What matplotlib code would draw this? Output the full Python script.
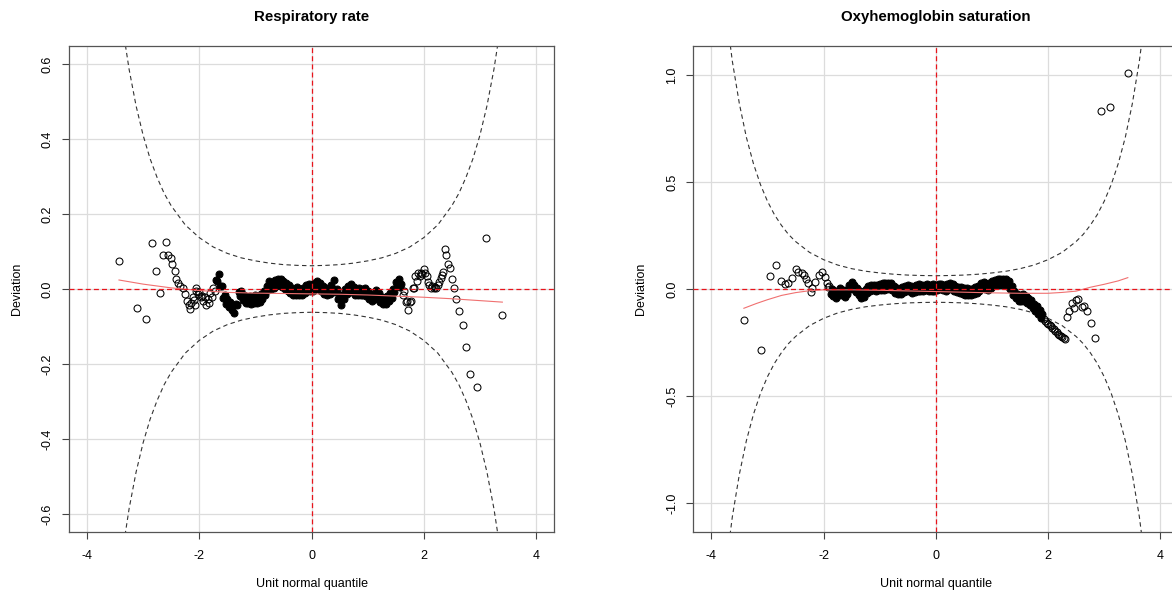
import matplotlib
matplotlib.use("Agg")
import matplotlib.pyplot as plt

plt.rcParams['font.family'] = ['Liberation Sans', 'DejaVu Sans']
plt.rcParams['axes.unicode_minus'] = False

# unit normal quantiles of the dense middle of both worms
z_core = [-1.900, -1.875, -1.850, -1.825, -1.800, -1.775, -1.750, -1.725, -1.700, -1.675,
          -1.650, -1.625, -1.600, -1.575, -1.550, -1.525, -1.500, -1.475, -1.450, -1.425,
          -1.400, -1.375, -1.350, -1.325, -1.300, -1.275, -1.250, -1.225, -1.200, -1.175,
          -1.150, -1.125, -1.100, -1.075, -1.050, -1.025, -1.000, -0.975, -0.950, -0.925,
          -0.900, -0.875, -0.850, -0.825, -0.800, -0.775, -0.750, -0.725, -0.700, -0.675,
          -0.650, -0.625, -0.600, -0.575, -0.550, -0.525, -0.500, -0.475, -0.450, -0.425,
          -0.400, -0.375, -0.350, -0.325, -0.300, -0.275, -0.250, -0.225, -0.200, -0.175,
          -0.150, -0.125, -0.100, -0.075, -0.050, -0.025, 0.000, 0.025, 0.050, 0.075,
          0.100, 0.125, 0.150, 0.175, 0.200, 0.225, 0.250, 0.275, 0.300, 0.325,
          0.350, 0.375, 0.400, 0.425, 0.450, 0.475, 0.500, 0.525, 0.550, 0.575,
          0.600, 0.625, 0.650, 0.675, 0.700, 0.725, 0.750, 0.775, 0.800, 0.825,
          0.850, 0.875, 0.900, 0.925, 0.950, 0.975, 1.000, 1.025, 1.050, 1.075,
          1.100, 1.125, 1.150, 1.175, 1.200, 1.225, 1.250, 1.275, 1.300, 1.325,
          1.350, 1.375, 1.400, 1.425, 1.450, 1.475, 1.500, 1.525, 1.550, 1.575,
          1.600, 1.625, 1.650, 1.675, 1.700, 1.725, 1.750, 1.775, 1.800, 1.825,
          1.850, 1.875, 1.900]

# Respiratory rate: deviations
rr_core = [-0.021, -0.044, -0.027, -0.037, -0.011, -0.021, 0.004, -0.004, 0.024, 0.021,
           0.041, 0.009, 0.009, -0.024, -0.016, -0.039, -0.026, -0.049, -0.036, -0.057,
           -0.043, -0.064, -0.039, -0.044, -0.009, -0.019, -0.006, -0.029, -0.016, -0.037,
           -0.021, -0.038, -0.019, -0.040, -0.024, -0.038, -0.016, -0.037, -0.021, -0.035,
           -0.013, -0.027, -0.006, -0.017, 0.009, -0.003, 0.021, 0.001, 0.017, 0.003,
           0.024, 0.008, 0.027, 0.013, 0.027, 0.006, 0.021, 0.001, 0.017, -0.004,
           0.012, -0.010, 0.004, -0.017, -0.001, -0.015, 0.006, -0.015, 0.001, -0.015,
           0.004, -0.011, 0.011, -0.006, 0.013, -0.006, 0.012, -0.004, 0.017, 0.001,
           0.021, 0.002, 0.017, -0.006, 0.007, -0.013, 0.004, -0.017, -0.001, -0.013,
           0.011, -0.001, 0.024, -0.007, -0.001, -0.027, -0.016, -0.042, -0.016, -0.027,
           -0.001, -0.014, 0.009, -0.006, 0.014, -0.008, 0.006, -0.015, 0.001, -0.015,
           0.004, -0.017, -0.001, -0.017, 0.004, -0.019, -0.006, -0.028, -0.013, -0.033,
           -0.016, -0.027, -0.003, -0.025, -0.011, -0.034, -0.021, -0.041, -0.024, -0.039,
           -0.019, -0.033, -0.011, -0.024, -0.001, -0.009, 0.019, 0.011, 0.027, 0.005,
           0.013, -0.015, -0.006, -0.034, -0.031, -0.057, -0.036, -0.031, 0.004, 0.003,
           0.034, 0.021, 0.044]
rr_tail_x = [-3.43, -3.11, -2.95, -2.85, -2.77, -2.70, -2.65, -2.60, -2.55, -2.51,
             -2.49, -2.44, -2.41, -2.38, -2.34, -2.29, -2.26, -2.22, -2.19, -2.16,
             -2.14, -2.12, -2.10, -2.08, -2.065, -2.050, -2.025, -2.000, -1.975, -1.950,
             -1.925,
             1.925, 1.950, 1.975, 2.000, 2.025, 2.050, 2.075, 2.100, 2.125, 2.150,
             2.175, 2.200, 2.225, 2.250, 2.275, 2.300, 2.320, 2.340, 2.370, 2.400,
             2.430, 2.470, 2.500, 2.540, 2.580, 2.630, 2.690, 2.750, 2.830, 2.940,
             3.100, 3.400]
rr_tail_y = [0.076, -0.050, -0.081, 0.123, 0.049, -0.010, 0.090, 0.125, 0.092, 0.083,
             0.068, 0.047, 0.028, 0.017, 0.008, 0.004, -0.012, -0.032, -0.044, -0.054,
             -0.038, -0.022, -0.030, -0.044, -0.005, 0.004, -0.012, -0.008, -0.022, -0.018,
             -0.032,
             0.034, 0.044, 0.041, 0.054, 0.042, 0.034, 0.020, 0.010, 0.004, 0.008,
             0.003, 0.006, 0.004, 0.012, 0.018, 0.030, 0.038, 0.046, 0.108, 0.091,
             0.068, 0.055, 0.028, 0.002, -0.027, -0.059, -0.095, -0.156, -0.227, -0.262,
             0.135, -0.070]
rr_fit_x = [-3.43, -3.0, -2.5, -2.0, -1.5, -1.0, -0.5, 0.0, 0.5, 1.0, 1.5, 2.0, 2.5, 3.0, 3.40]
rr_fit_y = [0.024, 0.013, 0.003, -0.004, -0.009, -0.011, -0.012, -0.013, -0.014, -0.016,
            -0.019, -0.022, -0.026, -0.031, -0.035]

# Oxyhemoglobin saturation: deviations
os_core = [0.014, -0.024, -0.001, -0.034, -0.011, -0.042, -0.008, -0.029, 0.006, -0.026,
           -0.006, -0.039, -0.004, -0.022, 0.019, -0.002, 0.032, -0.002, 0.019, -0.014,
           0.006, -0.029, -0.008, -0.040, -0.014, -0.036, 0.002, -0.019, 0.014, -0.011,
           0.020, -0.006, 0.020, -0.010, 0.020, -0.006, 0.024, -0.004, 0.026, -0.004,
           0.026, 0.000, 0.029, 0.000, 0.026, -0.006, 0.016, -0.019, 0.006, -0.024,
           0.002, -0.022, 0.010, -0.014, 0.016, -0.009, 0.020, -0.010, 0.014, -0.017,
           0.010, -0.014, 0.018, -0.008, 0.022, -0.008, 0.018, -0.011, 0.019, -0.006,
           0.023, -0.008, 0.018, -0.008, 0.022, -0.008, 0.019, -0.006, 0.024, -0.002,
           0.024, -0.006, 0.020, -0.009, 0.022, -0.002, 0.029, -0.002, 0.022, -0.010,
           0.014, -0.016, 0.010, -0.017, 0.009, -0.022, 0.004, -0.026, 0.004, -0.026,
           -0.001, -0.028, 0.001, -0.024, 0.008, -0.017, 0.014, -0.008, 0.026, 0.004,
           0.034, 0.001, 0.024, -0.006, 0.026, 0.004, 0.038, 0.014, 0.044, 0.018,
           0.047, 0.020, 0.047, 0.020, 0.049, 0.019, 0.046, 0.016, 0.039, -0.002,
           0.014, -0.026, -0.008, -0.044, -0.022, -0.054, -0.030, -0.054, -0.022, -0.054,
           -0.032, -0.064, -0.041, -0.074, -0.052, -0.088, -0.068, -0.102, -0.080, -0.116,
           -0.098, -0.136, -0.118]
os_tail_x = [-3.42, -3.11, -2.95, -2.85, -2.76, -2.69, -2.63, -2.57, -2.50, -2.45,
             -2.39, -2.35, -2.31, -2.27, -2.22, -2.20, -2.15, -2.09, -2.03, -1.97,
             -1.94, -1.925,
             1.925, 1.950, 1.975, 2.000, 2.025, 2.050, 2.075, 2.100, 2.125, 2.150,
             2.175, 2.200, 2.225, 2.250, 2.275, 2.300, 2.33, 2.38, 2.43, 2.47,
             2.50, 2.53, 2.60, 2.64, 2.69, 2.76, 2.84, 2.95, 3.10, 3.42]
os_tail_y = [-0.145, -0.285, 0.059, 0.112, 0.037, 0.023, 0.030, 0.050, 0.092, 0.081,
             0.073, 0.066, 0.045, 0.027, -0.012, 0.005, 0.034, 0.065, 0.081, 0.055,
             0.030, 0.011,
             -0.142, -0.150, -0.160, -0.164, -0.168, -0.172, -0.180, -0.188, -0.194, -0.200,
             -0.208, -0.214, -0.220, -0.226, -0.230, -0.235, -0.129, -0.101, -0.067, -0.090,
             -0.052, -0.048, -0.083, -0.078, -0.101, -0.160, -0.227, 0.832, 0.852, 1.011]
os_fit_x = [-3.42, -3.2, -3.0, -2.75, -2.5, -2.25, -2.0, -1.5, -1.0, -0.5, 0.0,
            0.5, 1.0, 1.5, 2.0, 2.25, 2.5, 2.75, 3.0, 3.25, 3.42]
os_fit_y = [-0.090, -0.068, -0.050, -0.030, -0.017, -0.008, -0.004, -0.004, -0.006, -0.009,
            -0.012, -0.015, -0.018, -0.020, -0.020, -0.016, -0.010, 0.008, 0.022, 0.038, 0.053]

# 95% band of the worm plot
band_z = [-4.0, -3.75, -3.625, -3.5, -3.375, -3.25, -3.125, -3.0, -2.875, -2.75, -2.625,
          -2.5, -2.25, -2.0, -1.75, -1.5, -1.25, -1.0, -0.75, -0.5, -0.25, 0.0,
          0.25, 0.5, 0.75, 1.0, 1.25, 1.5, 1.75, 2.0, 2.25, 2.5,
          2.625, 2.75, 2.875, 3.0, 3.125, 3.25, 3.375, 3.5, 3.625, 3.75, 4.0]
band_up = [2.080, 1.319, 1.063, 0.865, 0.708, 0.586, 0.488, 0.410, 0.347, 0.297, 0.255,
           0.222, 0.171, 0.137, 0.112, 0.095, 0.083, 0.075, 0.069, 0.065, 0.063, 0.062,
           0.063, 0.065, 0.069, 0.075, 0.083, 0.095, 0.112, 0.137, 0.171, 0.222,
           0.255, 0.297, 0.347, 0.410, 0.488, 0.586, 0.708, 0.865, 1.063, 1.319, 2.080]
band_lo = [-2.080, -1.319, -1.063, -0.865, -0.708, -0.586, -0.488, -0.410, -0.347, -0.297, -0.255,
           -0.222, -0.171, -0.137, -0.112, -0.095, -0.083, -0.075, -0.069, -0.065, -0.063, -0.062,
           -0.063, -0.065, -0.069, -0.075, -0.083, -0.095, -0.112, -0.137, -0.171, -0.222,
           -0.255, -0.297, -0.347, -0.410, -0.488, -0.586, -0.708, -0.865, -1.063, -1.319, -2.080]

x_ticks = [-4, -2, 0, 2, 4]
rr_yticks = [-0.6, -0.4, -0.2, 0.0, 0.2, 0.4, 0.6]
rr_ylabels = ['-0.6', '-0.4', '-0.2', '0.0', '0.2', '0.4', '0.6']
os_yticks = [-1.0, -0.5, 0.0, 0.5, 1.0]
os_ylabels = ['-1.0', '-0.5', '0.0', '0.5', '1.0']


def worm(ax, core, solid, tail_x, tail_y, fit_x, fit_y, ylim, yticks, ylabels, title):
    ax.set_xlim(-4.32, 4.32)
    ax.set_ylim(-ylim, ylim)
    for t in x_ticks:
        ax.axvline(t, color='#dcdcdc', lw=0.9, zorder=0)
    for t in yticks:
        ax.axhline(t, color='#dcdcdc', lw=0.9, zorder=0)

    ax.plot(band_z, band_up, color='#333333', lw=0.8, ls=(0, (4, 3)), zorder=2)
    ax.plot(band_z, band_lo, color='#333333', lw=0.8, ls=(0, (4, 3)), zorder=2)

    # where the worm is densest the overlapping circles merge into a solid band
    lo, hi = solid
    in_x = [z for z in z_core if lo <= z <= hi]
    in_y = [v for z, v in zip(z_core, core) if lo <= z <= hi]
    out_x = [z for z in z_core if not lo <= z <= hi] + tail_x
    out_y = [v for z, v in zip(z_core, core) if not lo <= z <= hi] + tail_y
    ax.plot(in_x, in_y, 'o', ms=5.0, mfc='black', mec='black', mew=0.75, zorder=3)
    ax.plot(out_x, out_y, 'o', ms=5.0, mfc='none', mec='black', mew=0.75, zorder=3)
    ax.plot(fit_x, fit_y, color='#f07070', lw=0.8, zorder=4)

    # reference lines on top of the points
    ax.axhline(0, color='#e8141c', lw=0.9, ls=(0, (4, 2.5)), zorder=5)
    ax.axvline(0, color='#e8141c', lw=0.9, ls=(0, (4, 2.5)), zorder=5)

    ax.set_xticks(x_ticks)
    ax.set_xticklabels([str(t) for t in x_ticks])
    ax.set_yticks(yticks)
    ax.set_yticklabels(ylabels, rotation=90, va='center')
    ax.tick_params(direction='out', length=5, width=0.8, color='#444444',
                   labelsize=9, pad=6)
    ax.tick_params(axis='x', pad=8)
    for s in ax.spines.values():
        s.set_color('#555555')
        s.set_linewidth(0.9)

    ax.text(0.5, 1.06, title, transform=ax.transAxes, ha='center', va='center',
            fontsize=10.8, fontweight='bold')
    ax.text(0.5, -0.107, 'Unit normal quantile', transform=ax.transAxes,
            ha='center', va='center', fontsize=9)
    ax.text(-0.107, 0.5, 'Deviation', transform=ax.transAxes, rotation=90,
            ha='center', va='center', fontsize=9)


fig = plt.figure(figsize=(11.72, 5.96), dpi=100)
ax1 = fig.add_axes([0.0589, 0.1074, 0.4138, 0.8154])
ax2 = fig.add_axes([0.5916, 0.1074, 0.4138, 0.8154])

worm(ax1, rr_core, (-1.70, 1.62), rr_tail_x, rr_tail_y, rr_fit_x, rr_fit_y, 0.648,
     rr_yticks, rr_ylabels, 'Respiratory rate')
worm(ax2, os_core, (-1.88, 1.90), os_tail_x, os_tail_y, os_fit_x, os_fit_y, 1.135,
     os_yticks, os_ylabels, 'Oxyhemoglobin saturation')

plt.savefig("out.png", dpi=100)
